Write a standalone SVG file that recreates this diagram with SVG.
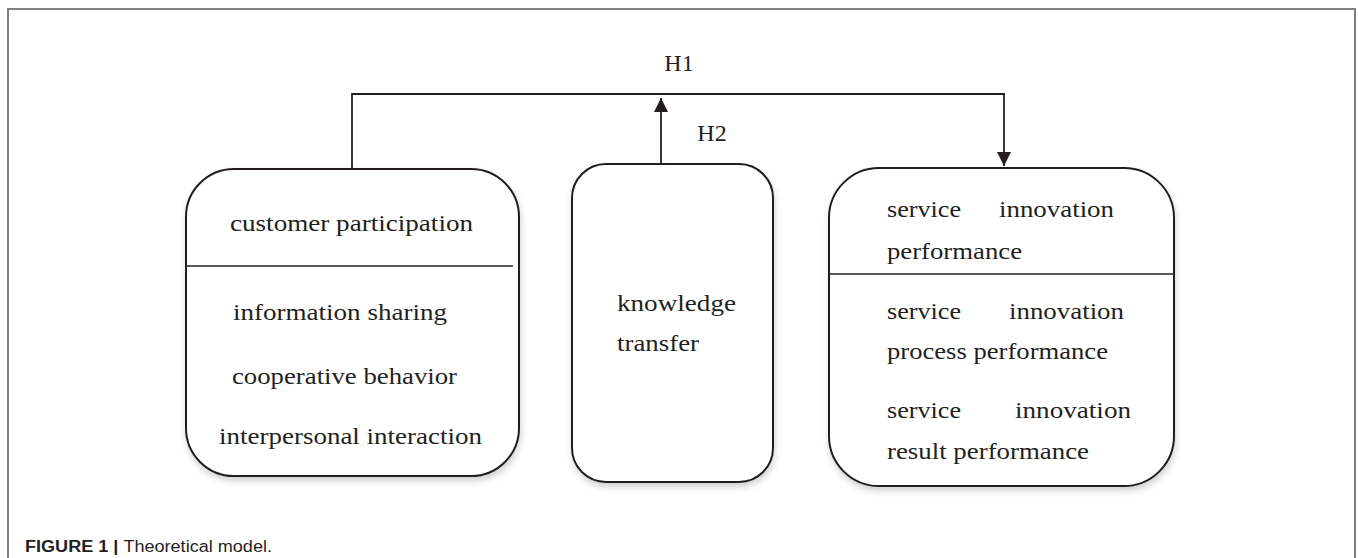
<svg xmlns="http://www.w3.org/2000/svg" width="1358" height="558" viewBox="0 0 1358 558">
<style>
.box{fill:#fff;stroke:#231f20;stroke-width:2}
.div{stroke:#231f20;stroke-width:1.6}
.t{font-family:"Liberation Serif","DejaVu Serif",serif;font-size:24px;fill:#231f20}
.ln{stroke:#231f20;stroke-width:1.8;fill:none}
.cap{font-family:"Liberation Sans",Arial,sans-serif;font-size:16px;fill:#231f20}
</style>
<defs>
<filter id="sh" x="-10%" y="-10%" width="120%" height="125%">
<feDropShadow dx="1" dy="4" stdDeviation="3" flood-color="#000" flood-opacity="0.18"/>
</filter>
<marker id="ah" viewBox="0 0 10 10" refX="10" refY="5" markerWidth="14" markerHeight="15" markerUnits="userSpaceOnUse" orient="auto">
<path d="M0,0 L10,5 L0,10 z" fill="#231f20"/>
</marker>
</defs>
<rect width="1358" height="558" fill="#fff"/>
<path d="M8,558 V9 H1355 V558" fill="none" stroke="#808080" stroke-width="2"/>

<g id="connectors">
<path class="ln" d="M352,169 V94 H1004 V166" marker-end="url(#ah)"/>
<path class="ln" d="M661,164 V98" marker-end="url(#ah)"/>
<text class="t" x="679" y="71" text-anchor="middle">H1</text>
<text class="t" x="712" y="141" text-anchor="middle">H2</text>
</g>

<g id="customer-participation">
<rect class="box" filter="url(#sh)" x="186" y="169" width="333" height="307" rx="48" ry="48"/>
<line class="div" x1="186" y1="266" x2="513" y2="266"/>
<text class="t" x="230" y="231" textLength="243" lengthAdjust="spacingAndGlyphs">customer participation</text>
<text class="t" x="233" y="320" textLength="214" lengthAdjust="spacingAndGlyphs">information sharing</text>
<text class="t" x="232" y="384" textLength="225" lengthAdjust="spacingAndGlyphs">cooperative behavior</text>
<text class="t" x="219" y="444" textLength="263" lengthAdjust="spacingAndGlyphs">interpersonal interaction</text>
</g>

<g id="knowledge-transfer">
<rect class="box" filter="url(#sh)" x="572" y="164" width="201" height="318" rx="34" ry="34"/>
<text class="t" x="617" y="311" textLength="119" lengthAdjust="spacingAndGlyphs">knowledge</text>
<text class="t" x="617" y="351" textLength="82" lengthAdjust="spacingAndGlyphs">transfer</text>
</g>

<g id="service-innovation-performance">
<rect class="box" filter="url(#sh)" x="829" y="168" width="345" height="318" rx="50" ry="50"/>
<line class="div" x1="829" y1="274" x2="1174" y2="274"/>
<text class="t" x="887" y="217" textLength="74" lengthAdjust="spacingAndGlyphs">service</text>
<text class="t" x="999" y="217" textLength="115" lengthAdjust="spacingAndGlyphs">innovation</text>
<text class="t" x="887" y="259" textLength="135" lengthAdjust="spacingAndGlyphs">performance</text>
<text class="t" x="887" y="319" textLength="74" lengthAdjust="spacingAndGlyphs">service</text>
<text class="t" x="1009" y="319" textLength="115" lengthAdjust="spacingAndGlyphs">innovation</text>
<text class="t" x="887" y="359" textLength="221" lengthAdjust="spacingAndGlyphs">process performance</text>
<text class="t" x="887" y="418" textLength="74" lengthAdjust="spacingAndGlyphs">service</text>
<text class="t" x="1015" y="418" textLength="116" lengthAdjust="spacingAndGlyphs">innovation</text>
<text class="t" x="887" y="459" textLength="202" lengthAdjust="spacingAndGlyphs">result performance</text>
</g>

<text class="cap" x="25" y="552" textLength="247" lengthAdjust="spacingAndGlyphs"><tspan font-weight="bold">FIGURE 1 | </tspan>Theoretical model.</text>
</svg>
